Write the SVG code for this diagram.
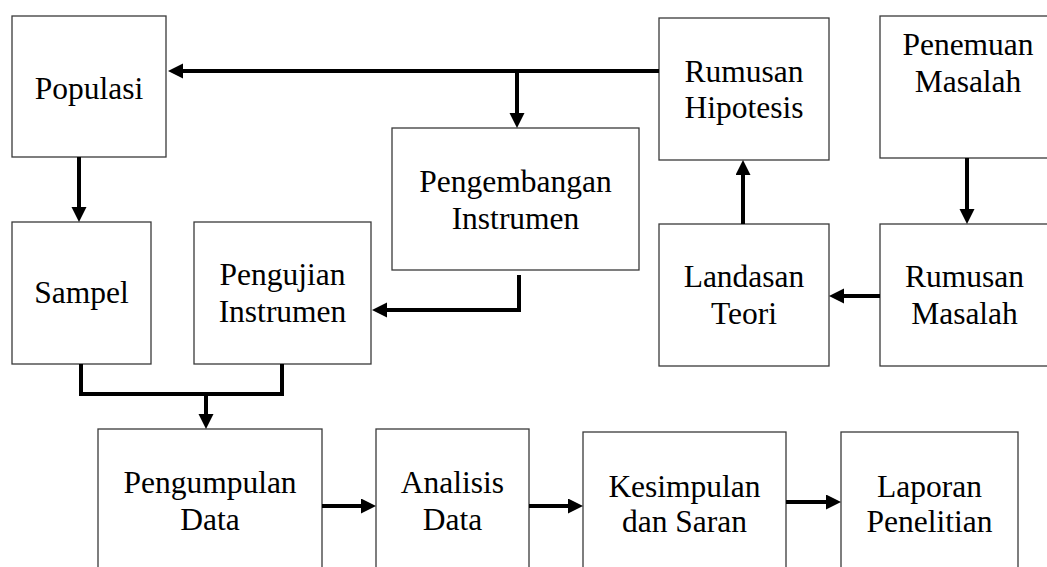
<svg xmlns="http://www.w3.org/2000/svg" width="1047" height="567" viewBox="0 0 1047 567">
<style>
.box{fill:#fff;stroke:#3a3a3a;stroke-width:1.3}
.t{font-size:31.5px;fill:#000;text-anchor:middle}
.c{fill:none;stroke:#000;stroke-width:4}
.a{marker-end:url(#ah)}
</style>
<defs>
<marker id="ah" markerUnits="userSpaceOnUse" markerWidth="16" markerHeight="16" refX="9" refY="7.5" orient="auto">
<path d="M0,0 L15,7.5 L0,15 z" fill="#000"/>
</marker>
</defs>
<rect width="1047" height="567" fill="#fff"/>
<g font-family="Liberation Serif, serif">
<g id="populasi"><rect class="box" x="12" y="16" width="154" height="141"/><text class="t" x="89" y="99">Populasi</text></g>
<g id="sampel"><rect class="box" x="12" y="222" width="139" height="142"/><text class="t" x="81.5" y="303">Sampel</text></g>
<g id="pengujian"><rect class="box" x="194" y="222" width="177" height="142"/><text class="t" x="282.5" y="285">Pengujian</text><text class="t" x="282.5" y="322">Instrumen</text></g>
<g id="pengembangan"><rect class="box" x="392" y="128" width="247" height="142"/><text class="t" x="515.5" y="192">Pengembangan</text><text class="t" x="515.5" y="229">Instrumen</text></g>
<g id="rumusan-hipotesis"><rect class="box" x="659" y="18" width="170" height="142"/><text class="t" x="744" y="82">Rumusan</text><text class="t" x="744" y="118">Hipotesis</text></g>
<g id="penemuan-masalah"><rect class="box" x="880" y="16" width="180" height="142"/><text class="t" x="968" y="55">Penemuan</text><text class="t" x="968" y="92">Masalah</text></g>
<g id="landasan-teori"><rect class="box" x="659" y="224" width="170" height="142"/><text class="t" x="744" y="287">Landasan</text><text class="t" x="744" y="324">Teori</text></g>
<g id="rumusan-masalah"><rect class="box" x="880" y="224" width="180" height="142"/><text class="t" x="964.5" y="287">Rumusan</text><text class="t" x="964.5" y="324">Masalah</text></g>
<g id="pengumpulan-data"><rect class="box" x="98" y="429" width="224" height="160"/><text class="t" x="210" y="493">Pengumpulan</text><text class="t" x="210" y="530">Data</text></g>
<g id="analisis-data"><rect class="box" x="376" y="429" width="153" height="160"/><text class="t" x="452.5" y="493">Analisis</text><text class="t" x="452.5" y="530">Data</text></g>
<g id="kesimpulan"><rect class="box" x="583" y="432" width="203" height="160"/><text class="t" x="684.5" y="497">Kesimpulan</text><text class="t" x="684.5" y="532">dan Saran</text></g>
<g id="laporan"><rect class="box" x="841" y="432" width="177" height="160"/><text class="t" x="929.5" y="497">Laporan</text><text class="t" x="929.5" y="532">Penelitian</text></g>
</g>
<g id="connectors">
<path class="c a" d="M659,71 H174"/>
<path class="c a" d="M517,71 V122"/>
<path class="c a" d="M79,157 V216"/>
<path class="c a" d="M519,275 V310 H378"/>
<path class="c" d="M81,364 V394 H282 V364"/>
<path class="c a" d="M206,394 V423"/>
<path class="c a" d="M967,158 V218"/>
<path class="c a" d="M880,296 H835"/>
<path class="c a" d="M743,224 V166"/>
<path class="c a" d="M322,506 H370"/>
<path class="c a" d="M529,506 H577"/>
<path class="c a" d="M786,502 H835"/>
</g>
</svg>
